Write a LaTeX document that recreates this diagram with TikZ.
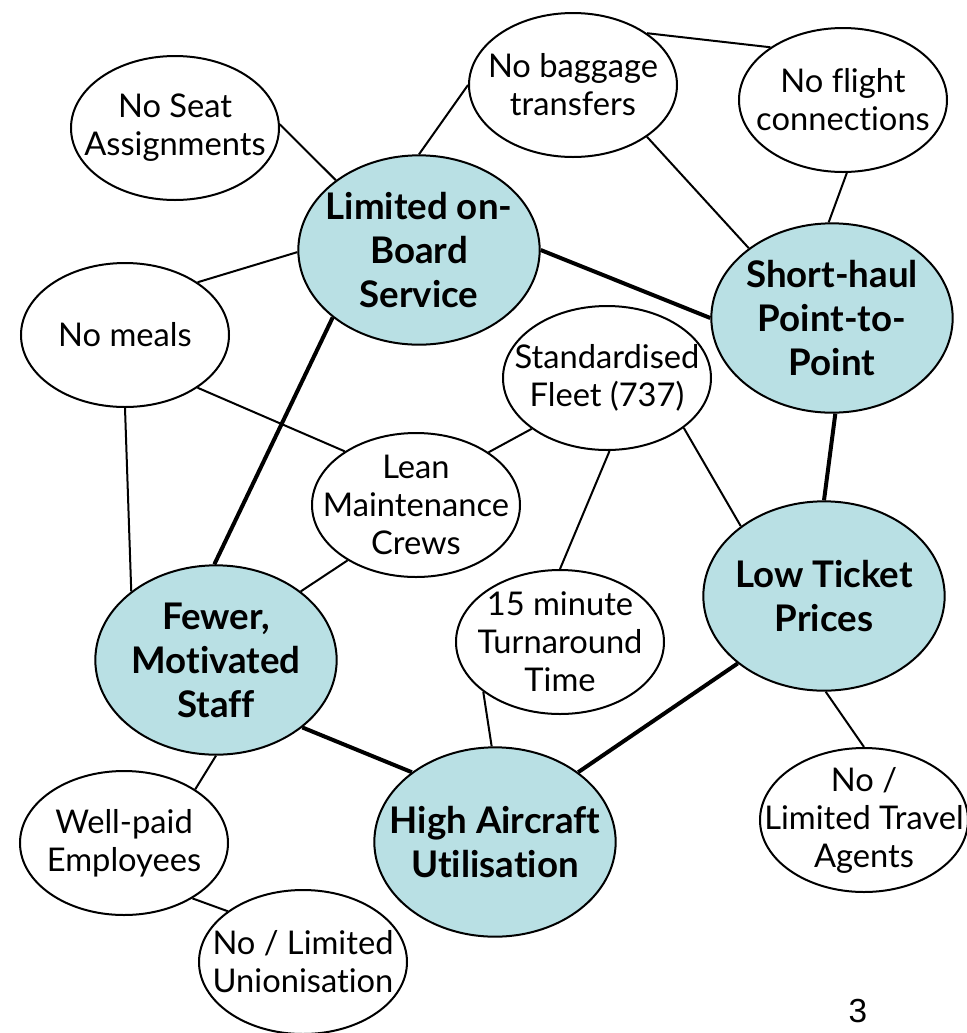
\documentclass[tikz,border=0pt]{standalone}
\usepackage{fontspec}
\setmainfont{Lato}[Ligatures=NoCommon]
\newfontfamily\pagefont{Liberation Sans}
\usetikzlibrary{shapes.geometric}

\definecolor{coreteal}{RGB}{185,224,228}

\tikzset{
	bubble/.style = {ellipse, draw, line width=1.5pt, fill=white, inner sep=-40pt,
		align=center, font=\fontsize{24.5}{28.5}\selectfont,
		minimum width=156pt, minimum height=108pt},
	core/.style = {bubble, fill=coreteal, font=\fontsize{27.5}{33}\selectfont\bfseries,
		minimum width=181pt, minimum height=142pt},
	link/.style = {line width=1.5pt},
	strong/.style = {line width=3pt}
}

\begin{document}
\begin{tikzpicture}[x=0.75pt, y=-0.75pt]
	\useasboundingbox (0,0) rectangle (967,1033);

	\node[bubble] (seat) at (175,128) {No Seat\\Assignments};
	\node[bubble] (bag) at (573,85) {No baggage\\transfers};
	\node[bubble] (flight) at (843,100) {No flight\\connections};
	\node[bubble] (meals) at (125,335) {No meals};
	\node[bubble] (fleet) at (607,378) {Standardised\\Fleet (737)};
	\node[bubble] (lean) at (416,505) {Lean\\Maintenance\\Crews};
	\node[bubble] (turn) at (560,642) {15 minute\\Turnaround\\Time};
	\node[bubble] (well) at (124,843) {Well-paid\\Employees};
	\node[bubble] (agents) at (864,820) {No /\\Limited Travel\\Agents};
	\node[bubble] (union) at (303,962) {No / Limited\\Unionisation};

	\node[core] (limited) at (419,250) {Limited on-\\Board\\Service};
	\node[core] (short) at (832,318) {Short-haul\\Point-to-\\Point};
	\node[core] (low) at (824,596) {Low Ticket\\Prices};
	\node[core] (fewer) at (216,660) {Fewer,\\Motivated\\Staff};
	\node[core] (high) at (495,842) {High Aircraft\\Utilisation};

	\draw[link] (seat.2) -- (limited.140);
	\draw[link] (bag.180) -- (limited.90);
	\draw[link] (bag.35) -- (flight.144);
	\draw[link] (bag.325) -- (short.140);
	\draw[link] (flight.273) -- (short.92);
	\draw[link] (meals.36) -- (limited.181);
	\draw[link] (meals.324) -- (lean.143);
	\draw[link] (meals.270) -- (fewer.141);
	\draw[link] (fleet.214) -- (lean.36);
	\draw[link] (fleet.272) -- (turn.90);
	\draw[link] (fleet.327) -- (low.140);
	\draw[link] (lean.219) -- (fewer.39);
	\draw[link] (turn.213) -- (high.92);
	\draw[link] (low.271) -- (agents.90);
	\draw[link] (fewer.270) -- (well.37);
	\draw[link] (well.321) -- (union.146);

	\draw[strong] (limited.0) -- (short.180);
	\draw[strong] (limited.218) -- (fewer.91);
	\draw[strong] (short.272) -- (low.90);
	\draw[strong] (low.218) -- (high.40);
	\draw[strong] (fewer.322) -- (high.140);

	\node[font=\pagefont\fontsize{25}{29}\selectfont, inner sep=0pt, anchor=base] (page) at (858,1022) {3};
\end{tikzpicture}
\end{document}
